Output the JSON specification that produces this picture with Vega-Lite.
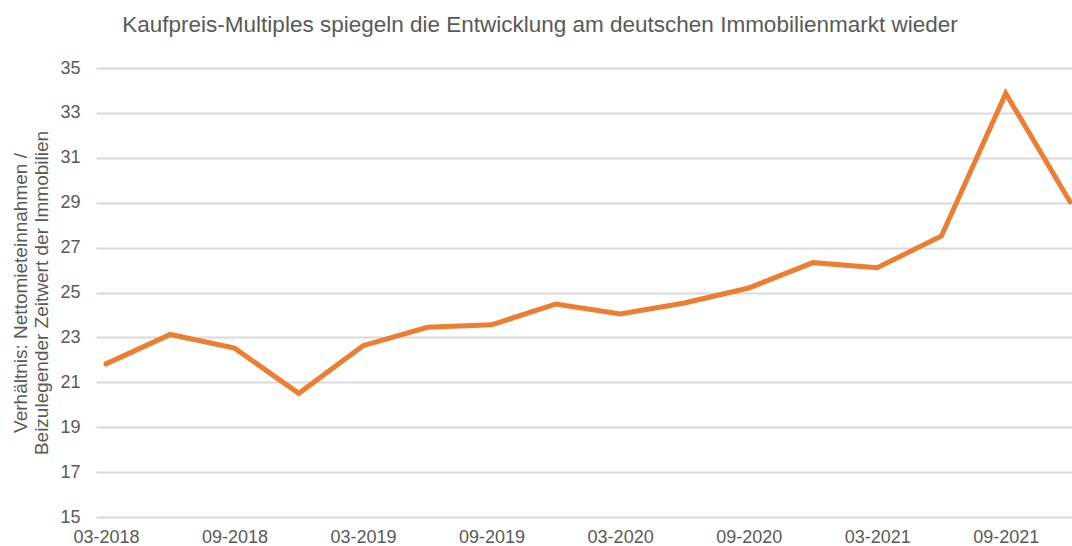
{
  "$schema": "https://vega.github.io/schema/vega-lite/v6.json",
  "width": 976,
  "height": 449,
  "autosize": "none",
  "padding": {"left": 96, "top": 68, "right": 0, "bottom": 29},
  "background": "white",
  "config": {
    "font": "Liberation Sans",
    "view": {"stroke": null}
  },
  "title": {
    "text": "Kaufpreis-Multiples spiegeln die Entwicklung am deutschen Immobilienmarkt wieder",
    "anchor": "middle",
    "dx": -44,
    "fontSize": 22.5,
    "fontWeight": "normal",
    "color": "#595959",
    "font": "Liberation Sans",
    "offset": 23
  },
  "data": {
    "values": [
      {"q": "03-2018", "v": 21.82},
      {"q": "06-2018", "v": 23.13},
      {"q": "09-2018", "v": 22.52},
      {"q": "12-2018", "v": 20.51},
      {"q": "03-2019", "v": 22.63},
      {"q": "06-2019", "v": 23.45},
      {"q": "09-2019", "v": 23.56},
      {"q": "12-2019", "v": 24.49},
      {"q": "03-2020", "v": 24.04},
      {"q": "06-2020", "v": 24.53},
      {"q": "09-2020", "v": 25.2},
      {"q": "12-2020", "v": 26.33},
      {"q": "03-2021", "v": 26.1},
      {"q": "06-2021", "v": 27.52},
      {"q": "09-2021", "v": 33.87},
      {"q": "12-2021", "v": 29.04}
    ]
  },
  "mark": {"type": "line", "color": "#ED7D31", "strokeWidth": 5, "strokeCap": "round", "strokeJoin": "miter"},
  "encoding": {
    "x": {
      "field": "q",
      "type": "ordinal",
      "sort": null,
      "scale": {"type": "point", "padding": 0.0934, "align": 0.833},
      "axis": {
        "title": null,
        "values": ["03-2018", "09-2018", "03-2019", "09-2019", "03-2020", "09-2020", "03-2021", "09-2021"],
        "labelAngle": 0,
        "labelFontSize": 18,
        "labelColor": "#595959",
        "labelPadding": 11,
        "domain": false,
        "ticks": false,
        "grid": false
      }
    },
    "y": {
      "field": "v",
      "type": "quantitative",
      "scale": {"domain": [15, 35], "nice": false, "zero": false},
      "axis": {
        "values": [15, 17, 19, 21, 23, 25, 27, 29, 31, 33, 35],
        "title": ["Verhältnis: Nettomieteinnahmen /", "Beizulegender Zeitwert der Immobilien"],
        "titleFontSize": 19,
        "titleFontWeight": "normal",
        "titleColor": "#595959",
        "titleLineHeight": 21,
        "titlePadding": 8,
        "labelFontSize": 18,
        "labelColor": "#595959",
        "labelPadding": 16,
        "domain": false,
        "ticks": false,
        "grid": true,
        "gridColor": "#d9d9d9",
        "gridWidth": 2
      }
    }
  }
}
